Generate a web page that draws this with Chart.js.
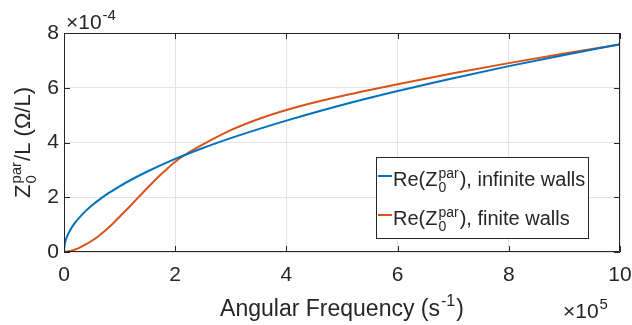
<!DOCTYPE html>
<html>
<head>
<meta charset="utf-8">
<script src="https://cdn.jsdelivr.net/npm/chart.js@4.4.0/dist/chart.umd.min.js"></script>
<style>
  html, body { margin: 0; padding: 0; background: #fff; }
  #wrap { width: 632px; height: 325px; }
</style>
</head>
<body>
<div id="wrap"><canvas id="chartZ"></canvas></div>
<script>
// angular frequency, in units of 1e5 s^-1
const infiniteX = [0, 0.01, 0.03, 0.05, 0.1, 0.2, 0.3, 0.4, 0.5, 0.6, 0.8, 1.0, 1.2, 1.5, 2.0, 2.5, 3.0, 3.5, 4.0, 5.0, 6.0, 7.0, 8.0, 9.0, 10.0];
// Re(Z0par)/L, in units of 1e-4
const infiniteY = [0, 0.24, 0.42, 0.54, 0.76, 1.07, 1.31, 1.52, 1.70, 1.86, 2.15, 2.40, 2.63, 2.94, 3.40, 3.80, 4.16, 4.49, 4.80, 5.37, 5.88, 6.35, 6.79, 7.20, 7.59];

const finiteX = [0, 0.1, 0.2, 0.3, 0.4, 0.5, 0.6, 0.7, 0.8, 0.9, 1.0, 1.2, 1.4, 1.6, 1.8, 2.0, 2.2, 2.5, 3.0, 3.5, 4.0, 4.5, 5.0, 5.5, 6.0, 7.0, 8.0, 9.0, 10.0];
const finiteY = [0, 0.03, 0.09, 0.18, 0.29, 0.41, 0.55, 0.71, 0.89, 1.08, 1.29, 1.70, 2.13, 2.55, 2.94, 3.30, 3.58, 3.93, 4.45, 4.86, 5.19, 5.46, 5.70, 5.92, 6.13, 6.53, 6.90, 7.25, 7.58];

const xTicks = [0, 2, 4, 6, 8, 10];
const yTicks = [0, 2, 4, 6, 8];

const BLUE = '#0072BD';
const ORANGE = '#D95319';
const INK = '#262626';
const FONT = '"Liberation Sans", Arial, Helvetica, sans-serif';

function toPoints(xs, ys) {
  return xs.map((x, i) => ({ x: x, y: ys[i] }));
}

// draw text with tex-like pieces: n = normal, sup/sub stacked at the same spot
function richText(ctx, parts, x, y, size) {
  let cx = x;
  for (let i = 0; i < parts.length; i++) {
    const p = parts[i];
    if (p.n !== undefined) {
      ctx.font = size + 'px ' + FONT;
      ctx.fillText(p.n, cx, y);
      cx += ctx.measureText(p.n).width;
    } else {
      const s = Math.round(size * 0.7);
      ctx.font = s + 'px ' + FONT;
      let w = 0;
      if (p.sup) {
        ctx.fillText(p.sup, cx + 1, y - size * 0.42);
        w = Math.max(w, ctx.measureText(p.sup).width);
      }
      if (p.sub) {
        ctx.fillText(p.sub, cx + 1, y + size * 0.28);
        w = Math.max(w, ctx.measureText(p.sub).width);
      }
      cx += w + 2;
    }
  }
  return cx - x;
}

function richWidth(ctx, parts, size) {
  let w = 0;
  parts.forEach(p => {
    if (p.n !== undefined) {
      ctx.font = size + 'px ' + FONT;
      w += ctx.measureText(p.n).width;
    } else {
      ctx.font = Math.round(size * 0.7) + 'px ' + FONT;
      const a = p.sup ? ctx.measureText(p.sup).width : 0;
      const b = p.sub ? ctx.measureText(p.sub).width : 0;
      w += Math.max(a, b) + 2;
    }
  });
  return w;
}

const matlabFrame = {
  id: 'matlabFrame',
  afterDraw(chart) {
    const ctx = chart.ctx;
    const a = chart.chartArea;
    const xs = chart.scales.x, ys = chart.scales.y;
    ctx.save();

    // box and inward ticks
    ctx.strokeStyle = INK;
    ctx.lineWidth = 1;
    ctx.beginPath();
    ctx.rect(a.left + 0.5, a.top + 0.5, a.right - a.left - 1, a.bottom - a.top - 1);
    xTicks.forEach(t => {
      const px = Math.round(xs.getPixelForValue(t)) + 0.5;
      ctx.moveTo(px, a.bottom); ctx.lineTo(px, a.bottom - 6);
      ctx.moveTo(px, a.top); ctx.lineTo(px, a.top + 6);
    });
    yTicks.forEach(t => {
      const py = Math.round(ys.getPixelForValue(t)) + 0.5;
      ctx.moveTo(a.left, py); ctx.lineTo(a.left + 6, py);
      ctx.moveTo(a.right, py); ctx.lineTo(a.right - 6, py);
    });
    ctx.stroke();

    ctx.fillStyle = INK;
    ctx.textBaseline = 'alphabetic';
    ctx.textAlign = 'left';

    // exponent labels
    richText(ctx, [{ n: '\u00d710' }, { sup: '-4' }], a.left + 2, 29, 21);
    richText(ctx, [{ n: '\u00d710' }, { sup: '5' }], a.right - 57, 318, 21);

    // x title
    const xt = [{ n: 'Angular Frequency (s' }, { sup: '-1' }, { n: ')' }];
    const xw = richWidth(ctx, xt, 23);
    richText(ctx, xt, (a.left + a.right) / 2 - xw / 2, 316, 23);

    // y title, rotated
    const yt = [{ n: 'Z' }, { sup: 'par', sub: '0' }, { n: '/L (\u03a9/L)' }];
    const yw = richWidth(ctx, yt, 22);
    ctx.save();
    ctx.translate(30, (a.top + a.bottom) / 2);
    ctx.rotate(-Math.PI / 2);
    richText(ctx, yt, -yw / 2, 0, 22);
    ctx.restore();

    // legend
    const lx = 376, ly = 157, lw = 212, lh = 81;
    ctx.fillStyle = '#fff';
    ctx.fillRect(lx, ly, lw, lh);
    ctx.strokeStyle = INK;
    ctx.lineWidth = 1;
    ctx.strokeRect(lx + 0.5, ly + 0.5, lw, lh);
    const items = [
      { c: BLUE, y: 176, parts: [{ n: 'Re(Z' }, { sup: 'par', sub: '0' }, { n: '), infinite walls' }] },
      { c: ORANGE, y: 215, parts: [{ n: 'Re(Z' }, { sup: 'par', sub: '0' }, { n: '), finite walls' }] }
    ];
    items.forEach(it => {
      ctx.strokeStyle = it.c;
      ctx.lineWidth = 2;
      ctx.beginPath();
      ctx.moveTo(378, it.y); ctx.lineTo(392, it.y);
      ctx.stroke();
      ctx.fillStyle = INK;
      richText(ctx, it.parts, 393, it.y + 10, 20);
    });

    ctx.restore();
  }
};

new Chart(document.getElementById('chartZ'), {
  type: 'scatter',
  data: {
    datasets: [
      {
        label: 'Re(Z0par), infinite walls',
        data: toPoints(infiniteX, infiniteY),
        showLine: true,
        borderColor: BLUE,
        borderWidth: 2,
        pointRadius: 0,
        cubicInterpolationMode: 'monotone'
      },
      {
        label: 'Re(Z0par), finite walls',
        data: toPoints(finiteX, finiteY),
        showLine: true,
        borderColor: ORANGE,
        borderWidth: 2,
        pointRadius: 0,
        cubicInterpolationMode: 'monotone'
      }
    ]
  },
  options: {
    responsive: true,
    maintainAspectRatio: false,
    animation: false,
    layout: { padding: { top: 33, right: 12, left: 0, bottom: 0 } },
    plugins: {
      legend: { display: false },
      tooltip: { enabled: false }
    },
    scales: {
      x: {
        type: 'linear',
        min: 0,
        max: 10,
        afterBuildTicks: s => { s.ticks = xTicks.map(v => ({ value: v })); },
        afterFit: s => { s.height = 73; s.paddingLeft = 0; s.paddingRight = 0; },
        grid: { color: '#e3e3e3', drawTicks: false },
        border: { display: false },
        ticks: { color: INK, padding: 11, font: { family: FONT, size: 21 } }
      },
      y: {
        type: 'linear',
        min: 0,
        max: 8,
        afterBuildTicks: s => { s.ticks = yTicks.map(v => ({ value: v })); },
        afterFit: s => { s.width = 64; s.paddingTop = 0; s.paddingBottom = 0; },
        grid: { color: '#e3e3e3', drawTicks: false },
        border: { display: false },
        ticks: { color: INK, padding: 5, font: { family: FONT, size: 21 } }
      }
    }
  },
  plugins: [matlabFrame]
});
</script>
</body>
</html>
